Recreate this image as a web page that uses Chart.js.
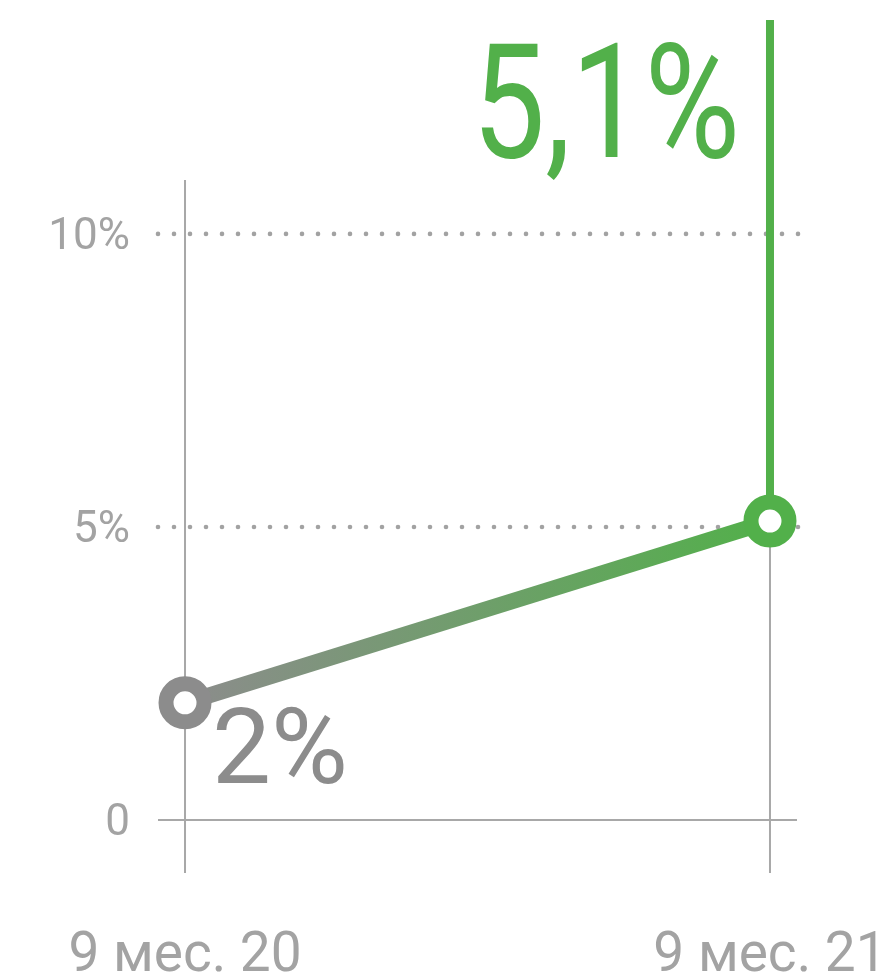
<!DOCTYPE html>
<html><head><meta charset="utf-8">
<script src="https://cdn.jsdelivr.net/npm/chart.js@4"></script>
<style>html,body{margin:0;padding:0;background:#fff}#wrap{width:887px;height:978px;position:relative}</style>
</head><body><div id="wrap"><canvas id="c"></canvas></div>
<script>
const categories = ['9 мес. 20', '9 мес. 21'];
const values = [2, 5.1];
const valueLabels = ['2%', '5,1%'];
const yTickValues = [0, 5, 10];
const yTickLabels = ['0', '5%', '10%'];
const pointColors = ['#8c8c8c', '#52b04a'];

const AXIS = '#a8a8a8';
const TICK = '#a3a3a3';

const decor = {
  id: 'decor',
  beforeDatasetsDraw(chart) {
    const c = chart.ctx, ca = chart.chartArea, xs = chart.scales.x, ys = chart.scales.y;
    c.save();
    // dotted gridlines
    c.fillStyle = '#a2a2a2';
    yTickValues.filter(v => v !== 0).forEach(v => {
      const y = ys.getPixelForValue(v);
      for (let x = ca.left + 3; x <= ca.right; x += 16) {
        c.beginPath(); c.arc(x, y, 2.3, 0, Math.PI * 2); c.fill();
      }
    });
    // zero line
    const y0 = ys.getPixelForValue(0);
    c.strokeStyle = AXIS; c.lineWidth = 2;
    c.beginPath(); c.moveTo(ca.left + 3, y0); c.lineTo(ca.right - 3, y0); c.stroke();
    // verticals
    const x0 = xs.getPixelForValue(0), x1 = xs.getPixelForValue(1);
    const yTop = ys.getPixelForValue(yTickValues[yTickValues.length - 1]) - 54;
    c.beginPath(); c.moveTo(x0, yTop); c.lineTo(x0, ca.bottom); c.stroke();
    const yP1 = ys.getPixelForValue(values[1]);
    c.beginPath(); c.moveTo(x1, yP1); c.lineTo(x1, ca.bottom); c.stroke();
    // green riser
    c.strokeStyle = pointColors[1]; c.lineWidth = 8;
    c.beginPath(); c.moveTo(x1, ca.top); c.lineTo(x1, yP1); c.stroke();
    c.restore();
  },
  afterDatasetsDraw(chart) {
    const c = chart.ctx, ca = chart.chartArea, xs = chart.scales.x, ys = chart.scales.y;
    c.save();
    c.textBaseline = 'alphabetic';
    // first label
    const px0 = xs.getPixelForValue(0), py0 = ys.getPixelForValue(values[0]);
    c.fillStyle = pointColors[0];
    c.font = '400 105px Roboto';
    c.textAlign = 'left';
    c.fillText(valueLabels[0], px0 + 27, py0 + 80);
    // second label
    const px1 = xs.getPixelForValue(1);
    c.fillStyle = pointColors[1];
    c.font = '400 160px Roboto';
    const w = c.measureText(valueLabels[1]).width;
    const target = 268;
    const sx = Math.min(1, target / w);
    c.translate(px1 - 30, ca.top + 137);
    c.scale(sx, 1);
    c.textAlign = 'right';
    c.fillText(valueLabels[1], 0, 0);
    c.restore();
  }
};

const chart = new Chart(document.getElementById('c'), {
  type: 'line',
  data: {
    datasets: [{
      data: values.map((v, i) => ({ x: i, y: v })),
      borderWidth: 16,
      borderCapStyle: 'butt',
      borderColor: (ctx) => {
        const ch = ctx.chart;
        if (!ch.chartArea) return pointColors[1];
        const xs = ch.scales.x;
        const g = ch.ctx.createLinearGradient(xs.getPixelForValue(0), 0, xs.getPixelForValue(1), 0);
        g.addColorStop(0, pointColors[0]);
        g.addColorStop(1, pointColors[1]);
        return g;
      },
      pointRadius: 19,
      pointHoverRadius: 19,
      pointBorderWidth: 15,
      pointHoverBorderWidth: 15,
      pointBackgroundColor: '#ffffff',
      pointBorderColor: pointColors,
      tension: 0
    }]
  },
  options: {
    responsive: true,
    maintainAspectRatio: false,
    animation: false,
    devicePixelRatio: 1,
    layout: { autoPadding: false, padding: { top: 20, left: 0, right: 87, bottom: 0 } },
    plugins: { legend: { display: false }, tooltip: { enabled: false } },
    scales: {
      x: {
        type: 'linear',
        min: -0.0513, max: 1.0513,
        afterBuildTicks: s => { s.ticks = categories.map((c, i) => ({ value: i })); },
        ticks: {
          callback: v => categories[v] ?? '',
          font: { family: 'Roboto', size: 55 },
          color: TICK,
          padding: 51,
          maxRotation: 0,
          autoSkip: false
        },
        grid: { display: false, drawTicks: false, tickLength: 0 },
        border: { display: false },
        afterFit: s => { s.height = 105; s.paddingLeft = 0; s.paddingRight = 0; }
      },
      y: {
        type: 'linear',
        min: -0.904, max: 13.65,
        afterBuildTicks: s => { s.ticks = yTickValues.map(v => ({ value: v })); },
        ticks: {
          // two-line label with an empty first line nudges the text down a few px
          callback: v => ['', yTickLabels[yTickValues.indexOf(v)] ?? ''],
          font: { family: 'Roboto', size: 44, lineHeight: '8px' },
          color: TICK,
          padding: 25
        },
        grid: { display: false, drawTicks: false, tickLength: 0 },
        border: { display: false },
        afterFit: s => { s.width = 155; s.paddingTop = 0; s.paddingBottom = 0; }
      }
    }
  },
  plugins: [decor]
});
</script>
</body></html>
